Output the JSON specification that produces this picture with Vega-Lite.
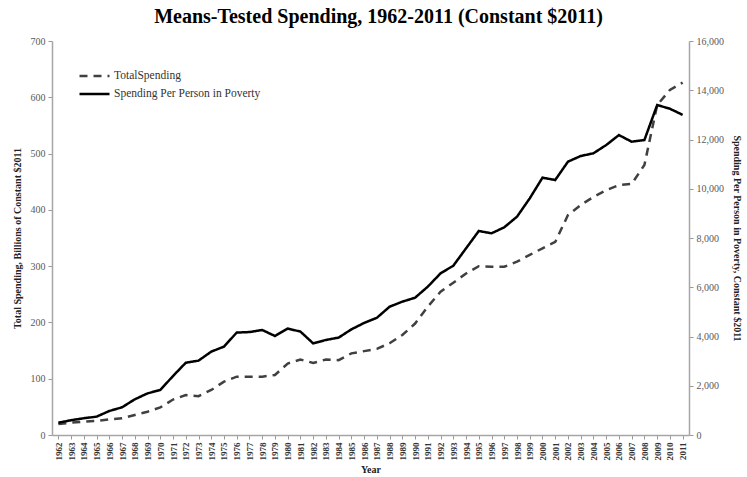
{
  "$schema": "https://vega.github.io/schema/vega-lite/v6.json",
  "width": 637,
  "height": 394,
  "autosize": "none",
  "padding": {"left": 52, "top": 41, "right": 58, "bottom": 42},
  "background": "white",
  "title": {
    "text": "Means-Tested Spending, 1962-2011 (Constant $2011)",
    "font": "Liberation Serif",
    "fontSize": 20,
    "fontWeight": "bold",
    "color": "#000000",
    "anchor": "middle",
    "dx": 8,
    "offset": 9
  },
  "config": {
    "view": {"stroke": null},
    "font": "Liberation Serif"
  },
  "data": {
    "values": [
      {"year": "1962", "series": "TotalSpending", "value": 19.5},
      {"year": "1963", "series": "TotalSpending", "value": 22},
      {"year": "1964", "series": "TotalSpending", "value": 23.5},
      {"year": "1965", "series": "TotalSpending", "value": 25},
      {"year": "1966", "series": "TotalSpending", "value": 27.8},
      {"year": "1967", "series": "TotalSpending", "value": 29.6},
      {"year": "1968", "series": "TotalSpending", "value": 35.5},
      {"year": "1969", "series": "TotalSpending", "value": 41.4},
      {"year": "1970", "series": "TotalSpending", "value": 49},
      {"year": "1971", "series": "TotalSpending", "value": 63},
      {"year": "1972", "series": "TotalSpending", "value": 71},
      {"year": "1973", "series": "TotalSpending", "value": 69},
      {"year": "1974", "series": "TotalSpending", "value": 80},
      {"year": "1975", "series": "TotalSpending", "value": 94.7},
      {"year": "1976", "series": "TotalSpending", "value": 103.6},
      {"year": "1977", "series": "TotalSpending", "value": 103.6},
      {"year": "1978", "series": "TotalSpending", "value": 103.6},
      {"year": "1979", "series": "TotalSpending", "value": 106.6},
      {"year": "1980", "series": "TotalSpending", "value": 127},
      {"year": "1981", "series": "TotalSpending", "value": 134},
      {"year": "1982", "series": "TotalSpending", "value": 128},
      {"year": "1983", "series": "TotalSpending", "value": 134},
      {"year": "1984", "series": "TotalSpending", "value": 133},
      {"year": "1985", "series": "TotalSpending", "value": 145},
      {"year": "1986", "series": "TotalSpending", "value": 149},
      {"year": "1987", "series": "TotalSpending", "value": 153},
      {"year": "1988", "series": "TotalSpending", "value": 163},
      {"year": "1989", "series": "TotalSpending", "value": 177.7},
      {"year": "1990", "series": "TotalSpending", "value": 198},
      {"year": "1991", "series": "TotalSpending", "value": 228},
      {"year": "1992", "series": "TotalSpending", "value": 254.6},
      {"year": "1993", "series": "TotalSpending", "value": 270.6},
      {"year": "1994", "series": "TotalSpending", "value": 287},
      {"year": "1995", "series": "TotalSpending", "value": 300},
      {"year": "1996", "series": "TotalSpending", "value": 299},
      {"year": "1997", "series": "TotalSpending", "value": 299},
      {"year": "1998", "series": "TotalSpending", "value": 308},
      {"year": "1999", "series": "TotalSpending", "value": 320},
      {"year": "2000", "series": "TotalSpending", "value": 331.7},
      {"year": "2001", "series": "TotalSpending", "value": 343},
      {"year": "2002", "series": "TotalSpending", "value": 390.8},
      {"year": "2003", "series": "TotalSpending", "value": 408.6},
      {"year": "2004", "series": "TotalSpending", "value": 423},
      {"year": "2005", "series": "TotalSpending", "value": 435},
      {"year": "2006", "series": "TotalSpending", "value": 444},
      {"year": "2007", "series": "TotalSpending", "value": 446},
      {"year": "2008", "series": "TotalSpending", "value": 479.7},
      {"year": "2009", "series": "TotalSpending", "value": 586},
      {"year": "2010", "series": "TotalSpending", "value": 613},
      {"year": "2011", "series": "TotalSpending", "value": 626},
      {"year": "1962", "series": "Spending Per Person in Poverty", "value": 500},
      {"year": "1963", "series": "Spending Per Person in Poverty", "value": 600},
      {"year": "1964", "series": "Spending Per Person in Poverty", "value": 680},
      {"year": "1965", "series": "Spending Per Person in Poverty", "value": 745},
      {"year": "1966", "series": "Spending Per Person in Poverty", "value": 975},
      {"year": "1967", "series": "Spending Per Person in Poverty", "value": 1125},
      {"year": "1968", "series": "Spending Per Person in Poverty", "value": 1450},
      {"year": "1969", "series": "Spending Per Person in Poverty", "value": 1690},
      {"year": "1970", "series": "Spending Per Person in Poverty", "value": 1830},
      {"year": "1971", "series": "Spending Per Person in Poverty", "value": 2395},
      {"year": "1972", "series": "Spending Per Person in Poverty", "value": 2935},
      {"year": "1973", "series": "Spending Per Person in Poverty", "value": 3020},
      {"year": "1974", "series": "Spending Per Person in Poverty", "value": 3385},
      {"year": "1975", "series": "Spending Per Person in Poverty", "value": 3590},
      {"year": "1976", "series": "Spending Per Person in Poverty", "value": 4160},
      {"year": "1977", "series": "Spending Per Person in Poverty", "value": 4180},
      {"year": "1978", "series": "Spending Per Person in Poverty", "value": 4265},
      {"year": "1979", "series": "Spending Per Person in Poverty", "value": 4020},
      {"year": "1980", "series": "Spending Per Person in Poverty", "value": 4320},
      {"year": "1981", "series": "Spending Per Person in Poverty", "value": 4200},
      {"year": "1982", "series": "Spending Per Person in Poverty", "value": 3720},
      {"year": "1983", "series": "Spending Per Person in Poverty", "value": 3860},
      {"year": "1984", "series": "Spending Per Person in Poverty", "value": 3955},
      {"year": "1985", "series": "Spending Per Person in Poverty", "value": 4290},
      {"year": "1986", "series": "Spending Per Person in Poverty", "value": 4550},
      {"year": "1987", "series": "Spending Per Person in Poverty", "value": 4760},
      {"year": "1988", "series": "Spending Per Person in Poverty", "value": 5210},
      {"year": "1989", "series": "Spending Per Person in Poverty", "value": 5415},
      {"year": "1990", "series": "Spending Per Person in Poverty", "value": 5575},
      {"year": "1991", "series": "Spending Per Person in Poverty", "value": 6025},
      {"year": "1992", "series": "Spending Per Person in Poverty", "value": 6565},
      {"year": "1993", "series": "Spending Per Person in Poverty", "value": 6875},
      {"year": "1994", "series": "Spending Per Person in Poverty", "value": 7580},
      {"year": "1995", "series": "Spending Per Person in Poverty", "value": 8285},
      {"year": "1996", "series": "Spending Per Person in Poverty", "value": 8190},
      {"year": "1997", "series": "Spending Per Person in Poverty", "value": 8435},
      {"year": "1998", "series": "Spending Per Person in Poverty", "value": 8865},
      {"year": "1999", "series": "Spending Per Person in Poverty", "value": 9610},
      {"year": "2000", "series": "Spending Per Person in Poverty", "value": 10450},
      {"year": "2001", "series": "Spending Per Person in Poverty", "value": 10355},
      {"year": "2002", "series": "Spending Per Person in Poverty", "value": 11100},
      {"year": "2003", "series": "Spending Per Person in Poverty", "value": 11330},
      {"year": "2004", "series": "Spending Per Person in Poverty", "value": 11440},
      {"year": "2005", "series": "Spending Per Person in Poverty", "value": 11775},
      {"year": "2006", "series": "Spending Per Person in Poverty", "value": 12180},
      {"year": "2007", "series": "Spending Per Person in Poverty", "value": 11910},
      {"year": "2008", "series": "Spending Per Person in Poverty", "value": 11980},
      {"year": "2009", "series": "Spending Per Person in Poverty", "value": 13400},
      {"year": "2010", "series": "Spending Per Person in Poverty", "value": 13250},
      {"year": "2011", "series": "Spending Per Person in Poverty", "value": 13000}
    ]
  },
  "encoding": {
    "x": {
      "field": "year",
      "type": "ordinal",
      "scale": {"type": "point", "padding": 0.5},
      "axis": {
        "title": "Year",
        "titleFont": "Liberation Serif",
        "titleFontSize": 10,
        "titleFontWeight": "bold",
        "titleColor": "#222222",
        "titlePadding": 4,
        "labelAngle": 270,
        "labelFont": "Liberation Serif",
        "labelFontSize": 9,
        "labelFontWeight": "bold",
        "labelColor": "#333333",
        "labelPadding": 3,
        "tickSize": 4,
        "tickColor": "#999999",
        "domainColor": "#a6a6a6",
        "domainWidth": 1.5,
        "grid": false
      }
    },
    "color": {
      "field": "series",
      "type": "nominal",
      "scale": {"domain": ["TotalSpending", "Spending Per Person in Poverty"], "range": ["#404040", "#000000"]},
      "legend": {
        "title": null,
        "orient": "none",
        "legendX": 26,
        "legendY": 26,
        "symbolType": "stroke",
        "symbolSize": 900,
        "symbolStrokeWidth": 2.5,
        "clipHeight": 18,
        "rowPadding": 0,
        "labelFont": "Liberation Serif",
        "labelFontSize": 11.5,
        "labelColor": "#333333",
        "labelOffset": 3
      }
    },
    "strokeDash": {
      "field": "series",
      "type": "nominal",
      "scale": {"domain": ["TotalSpending", "Spending Per Person in Poverty"], "range": [[8, 6], [1, 0]]},
      "legend": {
        "title": null,
        "orient": "none",
        "legendX": 26,
        "legendY": 26,
        "symbolType": "stroke",
        "symbolSize": 900,
        "symbolStrokeWidth": 2.5,
        "clipHeight": 18,
        "rowPadding": 0,
        "labelFont": "Liberation Serif",
        "labelFontSize": 11.5,
        "labelColor": "#333333",
        "labelOffset": 3
      }
    }
  },
  "layer": [
    {
      "transform": [{"filter": "datum.series === 'TotalSpending'"}],
      "mark": {"type": "line", "strokeWidth": 2.5},
      "encoding": {
        "y": {
          "field": "value",
          "type": "quantitative",
          "scale": {"domain": [0, 700], "nice": false},
          "axis": {
            "title": "Total Spending, Billions of Constant $2011",
            "titleFont": "Liberation Serif",
            "titleFontSize": 10,
            "titleFontWeight": "bold",
            "titleColor": "#222222",
            "titlePadding": 8,
            "values": [0, 100, 200, 300, 400, 500, 600, 700],
            "labelFont": "Liberation Serif",
            "labelFontSize": 10,
            "labelColor": "#595959",
            "labelPadding": 3,
            "tickSize": 4,
            "tickColor": "#999999",
            "domainColor": "#a6a6a6",
            "domainWidth": 1.5,
            "grid": false
          }
        }
      }
    },
    {
      "transform": [{"filter": "datum.series === 'Spending Per Person in Poverty'"}],
      "mark": {"type": "line", "strokeWidth": 2.5},
      "encoding": {
        "y": {
          "field": "value",
          "type": "quantitative",
          "scale": {"domain": [0, 16000], "nice": false},
          "axis": {
            "orient": "right",
            "title": "Spending Per Person in Poverty, Constant $2011",
            "titleFont": "Liberation Serif",
            "titleFontSize": 10,
            "titleFontWeight": "bold",
            "titleColor": "#222222",
            "titlePadding": 8,
            "values": [0, 2000, 4000, 6000, 8000, 10000, 12000, 14000, 16000],
            "format": ",.0f",
            "labelFont": "Liberation Serif",
            "labelFontSize": 10,
            "labelColor": "#595959",
            "labelPadding": 3,
            "tickSize": 4,
            "tickColor": "#999999",
            "domainColor": "#a6a6a6",
            "domainWidth": 1.5,
            "grid": false
          }
        }
      }
    }
  ],
  "resolve": {"scale": {"y": "independent"}}
}
